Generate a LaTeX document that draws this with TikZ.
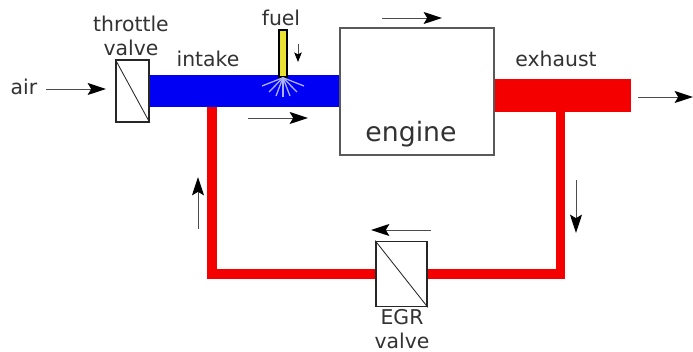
\documentclass[tikz,border=0pt]{standalone}
\usepackage{fontspec}
\setmainfont{DejaVu Sans}
\usepackage{tikz}
\usetikzlibrary{arrows.meta}
\definecolor{intakeblue}{RGB}{0,0,245}
\definecolor{egrred}{RGB}{245,0,0}
\definecolor{fuelyellow}{RGB}{235,225,50}
\definecolor{sprayblue}{RGB}{175,180,250}
\definecolor{labelgray}{RGB}{50,50,50}
\tikzset{
	lbl/.style={text=labelgray, font=\fontsize{14.5}{14.5}\selectfont, inner sep=0pt},
	valvebox/.style={draw=black!85, line width=1.2pt, fill=white, inner sep=0pt},
	flow/.style={draw=black!70, line width=.7pt, -{Stealth[black,length=4.6mm,width=3mm,inset=.9mm]}},
	egrline/.style={draw=egrred, line width=6.6pt, line join=miter},
	spray/.style={draw=sprayblue, line width=.9pt},
}
\begin{document}
\begin{tikzpicture}[x=.025cm, y=-.025cm]
	\useasboundingbox (0,0) rectangle (693,352);
	% pipes
	\fill[intakeblue] (148,75) rectangle (341,107);
	\fill[egrred] (494,79) rectangle (631,112);
	\coordinate (intaketap) at (212,107);
	\coordinate (egrleft) at (212,274);
	\coordinate (exhausttap) at (560.5,112);
	\coordinate (egrright) at (560.5,274);
	% valves and engine
	\node[valvebox, minimum width=.825cm, minimum height=1.55cm] (throttle) at (132.5,91) {};
	\node[valvebox, minimum width=1.275cm, minimum height=1.625cm] (egr) at (401.5,274) {};
	\node[draw=black!65, line width=1pt, minimum width=3.85cm, minimum height=3.175cm, inner sep=0pt] (engine) at (417,91.5) {};
	\draw[egrline] (intaketap) -- (egrleft) -- (egr.west);
	\draw[egrline] (egr.east) -- (egrright) -- (exhausttap);
	\draw[black!85, line width=.6pt] (throttle.north west) -- (throttle.south east);
	\draw[black!85, line width=.6pt] (egr.north west) -- (egr.south east);
	% fuel injector
	\node[draw=black, line width=1pt, fill=fuelyellow, minimum width=.2cm, minimum height=1.175cm, inner sep=0pt] (injector) at (283,53.5) {};
	\foreach \tipx/\tipy in {262/86, 269/92, 276/96, 283/97, 290/96, 297/92, 304/86} {
		\draw[spray] (injector.south) -- (\tipx,\tipy);
	}
	% flow arrows
	\foreach \name/\xa/\ya/\xb/\yb in {air/46/89/106/89, inflow/248/118/308/118, top/382/18/442/18, out/638/97/693/97, down/576/180/576/233, up/198/229/198/177, back/431/230/371/230} {
		\coordinate (\name a) at (\xa,\ya);
		\coordinate (\name b) at (\xb,\yb);
		\draw[flow] (\name a) -- (\name b);
	}
	\coordinate (fuela) at (298,44);
	\coordinate (fuelb) at (298,62);
	\draw[draw=black!70, line width=.6pt, -{Stealth[black,length=2.4mm,width=1.9mm,inset=.5mm]}] (fuela) -- (fuelb);
	% labels
	\node[lbl] (airlbl) at (24,87) {air};
	\node[lbl, align=center] (throttlelbl) at (131,36) {throttle\\[3pt]valve};
	\node[lbl] (intakelbl) at (208,59) {intake};
	\node[lbl] (fuellbl) at (281,18) {fuel};
	\node[lbl] (exhaustlbl) at (556,59) {exhaust};
	\node[lbl, font=\fontsize{19}{19}\selectfont] (enginelbl) at (411,134) {engine};
	\node[lbl, align=center] (egrlbl) at (402,329) {EGR\\[2.4pt]valve};
\end{tikzpicture}
\end{document}
